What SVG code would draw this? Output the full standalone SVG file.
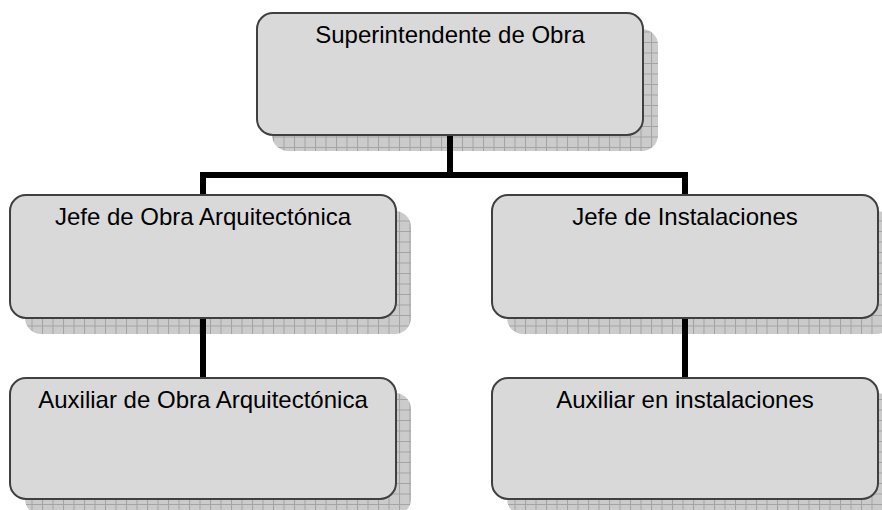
<svg xmlns="http://www.w3.org/2000/svg" width="882" height="510" viewBox="0 0 882 510">
<defs>
<pattern id="grid" width="10.5" height="10.5" patternUnits="userSpaceOnUse">
<rect width="10.5" height="10.5" fill="#cbcbcb"/>
<path d="M0 0.5H10.5M0.5 0V10.5" stroke="#a3a3a3" stroke-width="1" fill="none"/>
</pattern>
</defs>
<style>
.shadow{fill:url(#grid);}
.box{fill:#d9d9d9;stroke:#404040;stroke-width:2;}
.lbl{font-family:"Liberation Sans",Arial,sans-serif;font-size:24px;fill:#000;text-anchor:middle;}
.conn{stroke:#000;stroke-width:6;fill:none;}
</style>
<rect width="882" height="510" fill="#fff"/>
<g id="shadows">
<rect class="shadow" x="272" y="29" width="386" height="122" rx="16"/>
<rect class="shadow" x="25" y="211" width="386" height="123" rx="16"/>
<rect class="shadow" x="507" y="211" width="386" height="123" rx="16"/>
<rect class="shadow" x="25" y="393" width="386" height="122" rx="16"/>
<rect class="shadow" x="507" y="393" width="386" height="122" rx="16"/>
</g>
<g id="connectors">
<path class="conn" d="M450 135V175M203 175H685M203 172V196M685 172V196M203 318V378M685 318V378"/>
</g>
<g id="n1">
<rect class="box" x="257" y="13" width="386" height="122" rx="16"/>
<text class="lbl" x="450" y="43">Superintendente de Obra</text>
</g>
<g id="n2">
<rect class="box" x="10" y="195" width="386" height="123" rx="16"/>
<text class="lbl" x="203" y="225">Jefe de Obra Arquitectónica</text>
</g>
<g id="n3">
<rect class="box" x="492" y="195" width="386" height="123" rx="16"/>
<text class="lbl" x="685" y="225">Jefe de Instalaciones</text>
</g>
<g id="n4">
<rect class="box" x="10" y="378" width="386" height="121" rx="16"/>
<text class="lbl" x="203" y="408">Auxiliar de Obra Arquitectónica</text>
</g>
<g id="n5">
<rect class="box" x="492" y="378" width="386" height="121" rx="16"/>
<text class="lbl" x="685" y="408">Auxiliar en instalaciones</text>
</g>
</svg>
